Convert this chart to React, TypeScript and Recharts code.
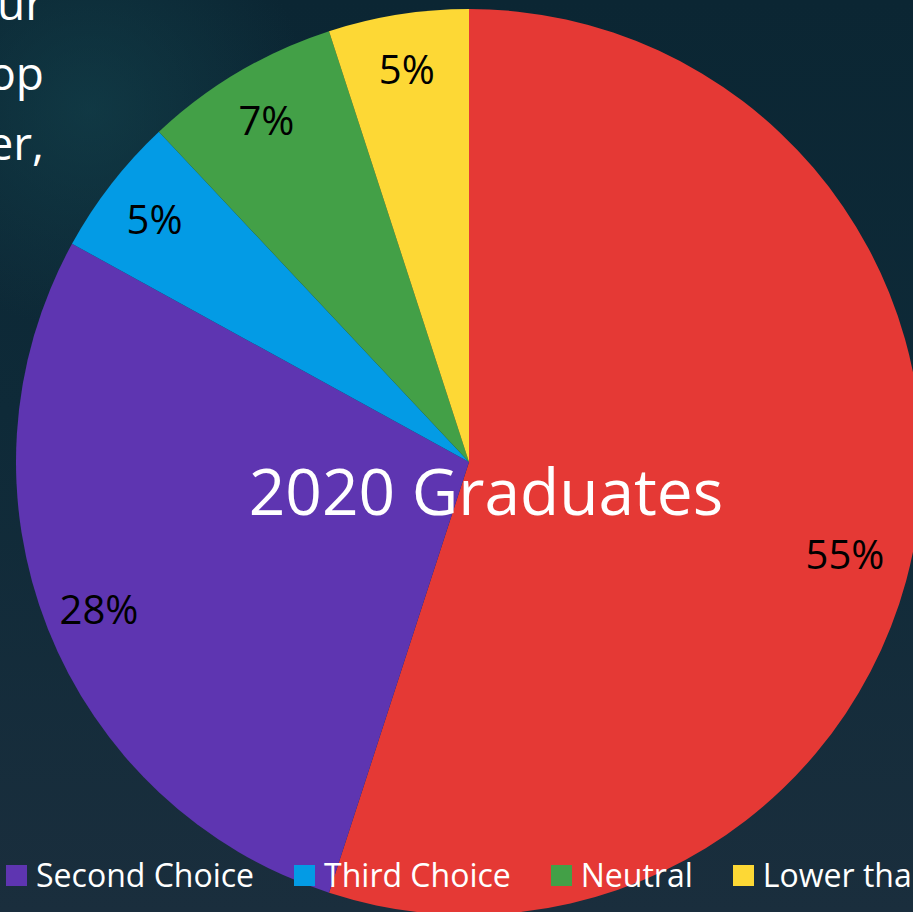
import { PieChart, Pie, Cell } from 'recharts';

const CATEGORIES = ['First Choice', 'Second Choice', 'Third Choice', 'Neutral', 'Lower than Third Choice'];
const SHARES = [55, 28, 5, 7, 5];
const COLORS = ['#E53935', '#5E35B1', '#039BE5', '#43A047', '#FDD835'];
const TITLE = '2020 Graduates';
// tail ends of the slide's body text lines, cut off by the crop
const SLIDE_TEXT = ['ur', 'op', 'er,'];

const W = 913;
const H = 912;
const FONT = '"Open Sans", "Noto Sans", sans-serif';
const RAD = Math.PI / 180;

const pieData = CATEGORIES.map((name, i) => ({ name, value: SHARES[i] }));

const renderLabel = (props: any) => {
  const { cx, cy, midAngle, value } = props;
  const r = 398;
  let x = cx + r * Math.cos(-midAngle * RAD);
  let y = cy + r * Math.sin(-midAngle * RAD);
  // keep the label inside the plot area (Excel "best fit" style)
  if (x > 845) {
    x = 845;
    y = cy + Math.sqrt(Math.max(0, 387 * 387 - (x - cx) * (x - cx)));
  }
  return (
    <text
      x={x}
      y={y}
      textAnchor="middle"
      dominantBaseline="central"
      fill="#000"
      fontSize={40}
      fontFamily={FONT}
    >
      {`${value}%`}
    </text>
  );
};

export default function App() {
  return (
    <>
      <style>{'html,body{margin:0;padding:0;}'}</style>
      <div
        style={{
          position: 'fixed',
          left: 0,
          top: 0,
          width: W,
          height: H,
          overflow: 'hidden',
          fontFamily: FONT,
          background:
            'radial-gradient(circle at 90px 110px, rgba(20,70,80,0.55) 0px, rgba(20,70,80,0) 220px), linear-gradient(180deg, #0b2633 0%, #0e2a38 45%, #1a2e3d 100%)',
        }}
      >
        <PieChart width={W} height={H} margin={{ top: 0, right: 0, bottom: 0, left: 0 }}>
          <Pie
            data={pieData}
            dataKey="value"
            nameKey="name"
            cx={469}
            cy={462}
            outerRadius={453}
            startAngle={90}
            endAngle={-270}
            stroke="none"
            label={renderLabel}
            labelLine={false}
            isAnimationActive={false}
          >
            {pieData.map((_, i) => (
              <Cell key={i} fill={COLORS[i]} />
            ))}
          </Pie>
        </PieChart>

        {/* title and slide text overlay */}
        <svg
          width={W}
          height={H}
          style={{ position: 'absolute', left: 0, top: 0, pointerEvents: 'none' }}
        >
          <text x={486} y={515} textAnchor="middle" fill="#fff" fontSize={64} fontFamily={FONT}>
            {TITLE}
          </text>
          {SLIDE_TEXT.map((t, i) => (
            <text
              key={t}
              x={44}
              y={20 + i * 70}
              textAnchor="end"
              fill="#fff"
              fontSize={46}
              fontFamily={FONT}
            >
              {t}
            </text>
          ))}
        </svg>

        {/* Legend, first item falls off the left edge like in the slide */}
        <div
          style={{
            position: 'absolute',
            left: -237,
            top: 855,
            display: 'flex',
            alignItems: 'center',
            whiteSpace: 'nowrap',
            color: '#fff',
            fontSize: 32,
            lineHeight: '40px',
          }}
        >
          {CATEGORIES.map((name, i) => (
            <div key={name} style={{ display: 'flex', alignItems: 'center', marginRight: 40 }}>
              <div style={{ width: 21, height: 21, background: COLORS[i], marginRight: 9 }} />
              <span>{name}</span>
            </div>
          ))}
        </div>
      </div>
    </>
  );
}
